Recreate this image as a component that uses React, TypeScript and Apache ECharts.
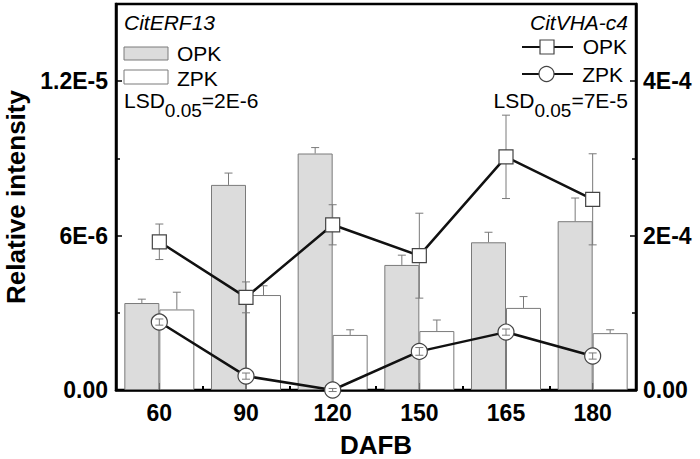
import React, { useEffect, useRef } from 'react';
import * as echarts from 'echarts';

// ---- data ----
const categories = ['60', '90', '120', '150', '165', '180'];
const erfOPK = [3.38e-6, 7.97e-6, 9.19e-6, 4.86e-6, 5.74e-6, 6.56e-6];
const erfOPKErr = [0.15e-6, 0.46e-6, 0.23e-6, 0.38e-6, 0.39e-6, 0.9e-6];
const erfZPK = [3.13e-6, 3.69e-6, 2.14e-6, 2.29e-6, 3.19e-6, 2.21e-6];
const erfZPKErr = [0.67e-6, 0.36e-6, 0.2e-6, 0.43e-6, 0.44e-6, 0.13e-6];
const vhaOPK = [1.92e-4, 1.2e-4, 2.14e-4, 1.74e-4, 3.02e-4, 2.47e-4];
const vhaOPKErr = [0.23e-4, 0.2e-4, 0.26e-4, 0.55e-4, 0.54e-4, 0.59e-4];
const vhaZPK = [0.88e-4, 0.18e-4, 0.0, 0.5e-4, 0.75e-4, 0.44e-4];
const vhaZPKErr = [0.04e-4, 0.04e-4, 0.02e-4, 0.05e-4, 0.04e-4, 0.04e-4];
const leftTickValues = [0, 6e-6, 1.2e-5];
const leftTickLabels = ['0.00', '6E-6', '1.2E-5'];
const rightTickValues = [0, 2e-4, 4e-4];
const rightTickLabels = ['0.00', '2E-4', '4E-4'];

const FONT = '"Liberation Sans", Arial, Helvetica, sans-serif';
const BAR_W = 35;
const ERR_GRAY = '#7a7a7a';

function labelFor(values: number[], labels: string[]) {
  return (v: number) => {
    for (let i = 0; i < values.length; i++) {
      if (Math.abs(v - values[i]) < 1e-12) return labels[i];
    }
    return '';
  };
}

function barErr(offset: number) {
  return (params: any, api: any) => {
    const i = api.value(0);
    const v = api.value(1);
    const e = api.value(2);
    const p0 = api.coord([i, v]);
    const p1 = api.coord([i, v + e]);
    const cx = p0[0] + offset;
    const st = { stroke: ERR_GRAY, lineWidth: 1 };
    return {
      type: 'group',
      children: [
        { type: 'line', shape: { x1: cx, y1: p0[1], x2: cx, y2: p1[1] }, style: st },
        { type: 'line', shape: { x1: cx - 4, y1: p1[1], x2: cx + 4, y2: p1[1] }, style: st },
      ],
    };
  };
}

function lineErr(params: any, api: any) {
  const i = api.value(0);
  const v = api.value(1);
  const e = api.value(2);
  const pt = api.coord([i, v + e]);
  const pb = api.coord([i, v - e]);
  const cx = pt[0];
  const st = { stroke: ERR_GRAY, lineWidth: 1 };
  return {
    type: 'group',
    children: [
      { type: 'line', shape: { x1: cx, y1: pt[1], x2: cx, y2: pb[1] }, style: st },
      { type: 'line', shape: { x1: cx - 4, y1: pt[1], x2: cx + 4, y2: pt[1] }, style: st },
      { type: 'line', shape: { x1: cx - 4, y1: pb[1], x2: cx + 4, y2: pb[1] }, style: st },
    ],
  };
}

const tickLabelStyle = { color: '#000', fontSize: 23, fontWeight: 'bold' as const, fontFamily: FONT };

export default function App() {
  const ref = useRef<HTMLDivElement>(null);
  useEffect(() => {
    if (!ref.current) return;
    const chart = echarts.init(ref.current, undefined, { renderer: 'svg' });
    const lsdRich = {
      n: { fontSize: 21, lineHeight: 21, verticalAlign: 'top', fill: '#000', fontFamily: FONT },
      s: { fontSize: 19, lineHeight: 30, verticalAlign: 'bottom', fill: '#000', fontFamily: FONT },
    };
    const option: any = {
      animation: false,
      backgroundColor: '#fff',
      grid: {
        left: 116, right: 64, top: 4, bottom: 69,
        show: true, borderColor: '#000', borderWidth: 2.5, backgroundColor: 'transparent',
        outerBoundsMode: 'none',
      },
      xAxis: [
        {
          type: 'category', data: categories, boundaryGap: true,
          axisLine: { show: true, lineStyle: { color: '#000', width: 2.5 } },
          axisTick: { show: true, alignWithLabel: true, inside: true, length: 7, lineStyle: { color: '#000', width: 2 } },
          axisLabel: { ...tickLabelStyle, margin: 11 },
          name: 'DAFB', nameLocation: 'middle', nameGap: 42,
          nameTextStyle: { color: '#000', fontSize: 26, fontWeight: 'bold', fontFamily: FONT },
        },
        {
          type: 'category', data: categories, boundaryGap: true, position: 'bottom',
          axisLine: { show: false },
          axisTick: { show: true, alignWithLabel: false, inside: true, length: 4, lineStyle: { color: '#000', width: 2 } },
          axisLabel: { show: false },
        },
      ],
      yAxis: [
        {
          type: 'value', min: 0, max: 1.5e-5, interval: 6e-6, position: 'left',
          axisLine: { show: true, lineStyle: { color: '#000', width: 2.5 } },
          axisTick: { show: true, inside: true, length: 6, lineStyle: { color: '#000', width: 1.5 } },
          minorTick: { show: true, splitNumber: 2, length: 4, lineStyle: { color: '#000', width: 1.5 } },
          splitLine: { show: false },
          axisLabel: { ...tickLabelStyle, margin: 8, showMaxLabel: false, formatter: labelFor(leftTickValues, leftTickLabels) },
          name: 'Relative intensity', nameLocation: 'middle', nameGap: 76,
          nameTextStyle: { color: '#000', fontSize: 26, fontWeight: 'bold', fontFamily: FONT },
        },
        {
          type: 'value', min: 0, max: 5e-4, interval: 2e-4, position: 'right',
          axisLine: { show: true, lineStyle: { color: '#000', width: 2.5 } },
          axisTick: { show: true, inside: true, length: 6, lineStyle: { color: '#000', width: 1.5 } },
          minorTick: { show: true, splitNumber: 2, length: 4, lineStyle: { color: '#000', width: 1.5 } },
          splitLine: { show: false },
          axisLabel: { ...tickLabelStyle, margin: 7, showMaxLabel: false, formatter: labelFor(rightTickValues, rightTickLabels) },
        },
      ],
      series: [
        {
          type: 'bar', name: 'OPK', data: erfOPK, barWidth: BAR_W, barGap: '0%', z: 1,
          itemStyle: { color: '#dcdcdc', borderColor: ERR_GRAY, borderWidth: 1 },
          emphasis: { disabled: true },
        },
        {
          type: 'bar', name: 'ZPK', data: erfZPK, barWidth: BAR_W, barGap: '0%', z: 1,
          itemStyle: { color: '#ffffff', borderColor: ERR_GRAY, borderWidth: 1 },
          emphasis: { disabled: true },
        },
        {
          type: 'custom', z: 1, xAxisIndex: 0, yAxisIndex: 0, silent: true,
          data: erfOPK.map((v, i) => [i, v, erfOPKErr[i]]),
          renderItem: barErr(-BAR_W / 2), encode: { x: 0, y: 1 },
        },
        {
          type: 'custom', z: 1, xAxisIndex: 0, yAxisIndex: 0, silent: true,
          data: erfZPK.map((v, i) => [i, v, erfZPKErr[i]]),
          renderItem: barErr(BAR_W / 2), encode: { x: 0, y: 1 },
        },
        {
          type: 'custom', z: 2, xAxisIndex: 0, yAxisIndex: 1, silent: true,
          data: vhaOPK.map((v, i) => [i, v, vhaOPKErr[i]]),
          renderItem: lineErr, encode: { x: 0, y: 1 },
        },
        {
          type: 'line', name: 'OPK line', yAxisIndex: 1, data: vhaOPK, z: 3,
          symbol: 'rect', symbolSize: 14, showAllSymbol: true,
          lineStyle: { color: '#111', width: 2.5 },
          itemStyle: { color: '#fff', borderColor: '#444', borderWidth: 1.2 },
          emphasis: { disabled: true },
        },
        {
          type: 'line', name: 'ZPK line', yAxisIndex: 1, data: vhaZPK, z: 3,
          symbol: 'circle', symbolSize: 16, showAllSymbol: true,
          lineStyle: { color: '#111', width: 2.5 },
          itemStyle: { color: '#fff', borderColor: '#444', borderWidth: 1.2 },
          emphasis: { disabled: true },
        },
        {
          type: 'custom', z: 4, xAxisIndex: 0, yAxisIndex: 1, silent: true,
          data: vhaZPK.map((v, i) => [i, v, vhaZPKErr[i]]),
          renderItem: lineErr, encode: { x: 0, y: 1 },
        },
      ],
      graphic: [
        { type: 'text', x: 124, y: 22, style: { text: 'CitERF13', fill: '#000', font: `italic 21px ${FONT}`, align: 'left', verticalAlign: 'middle' } },
        { type: 'rect', shape: { x: 124, y: 47, width: 44, height: 13 }, style: { fill: '#dcdcdc', stroke: ERR_GRAY, lineWidth: 1 } },
        { type: 'text', x: 177, y: 53.5, style: { text: 'OPK', fill: '#000', font: `21px ${FONT}`, align: 'left', verticalAlign: 'middle' } },
        { type: 'rect', shape: { x: 124, y: 70, width: 44, height: 14 }, style: { fill: '#fff', stroke: ERR_GRAY, lineWidth: 1 } },
        { type: 'text', x: 177, y: 78, style: { text: 'ZPK', fill: '#000', font: `21px ${FONT}`, align: 'left', verticalAlign: 'middle' } },
        { type: 'text', x: 124, y: 90, style: { text: '{n|LSD}{s|0.05}{n|=2E-6}', rich: lsdRich, align: 'left', verticalAlign: 'top' } },

        { type: 'text', x: 628, y: 22, style: { text: 'CitVHA-c4', fill: '#000', font: `italic 21px ${FONT}`, align: 'right', verticalAlign: 'middle' } },
        { type: 'line', shape: { x1: 522, y1: 47, x2: 573, y2: 47 }, style: { stroke: '#111', lineWidth: 2 } },
        { type: 'rect', shape: { x: 540, y: 40, width: 14, height: 14 }, style: { fill: '#fff', stroke: '#444', lineWidth: 1.2 } },
        { type: 'text', x: 627, y: 46.5, style: { text: 'OPK', fill: '#000', font: `21px ${FONT}`, align: 'right', verticalAlign: 'middle' } },
        { type: 'line', shape: { x1: 522, y1: 74, x2: 573, y2: 74 }, style: { stroke: '#111', lineWidth: 2 } },
        { type: 'circle', shape: { cx: 546.5, cy: 74, r: 7.5 }, style: { fill: '#fff', stroke: '#444', lineWidth: 1.2 } },
        { type: 'text', x: 623, y: 74, style: { text: 'ZPK', fill: '#000', font: `21px ${FONT}`, align: 'right', verticalAlign: 'middle' } },
        { type: 'text', x: 628, y: 90, style: { text: '{n|LSD}{s|0.05}{n|=7E-5}', rich: lsdRich, align: 'right', verticalAlign: 'top' } },
      ],
    };
    chart.setOption(option);
    return () => chart.dispose();
  }, []);
  return <div ref={ref} style={{ position: 'fixed', left: 0, top: 0, width: 700, height: 459 }} />;
}
